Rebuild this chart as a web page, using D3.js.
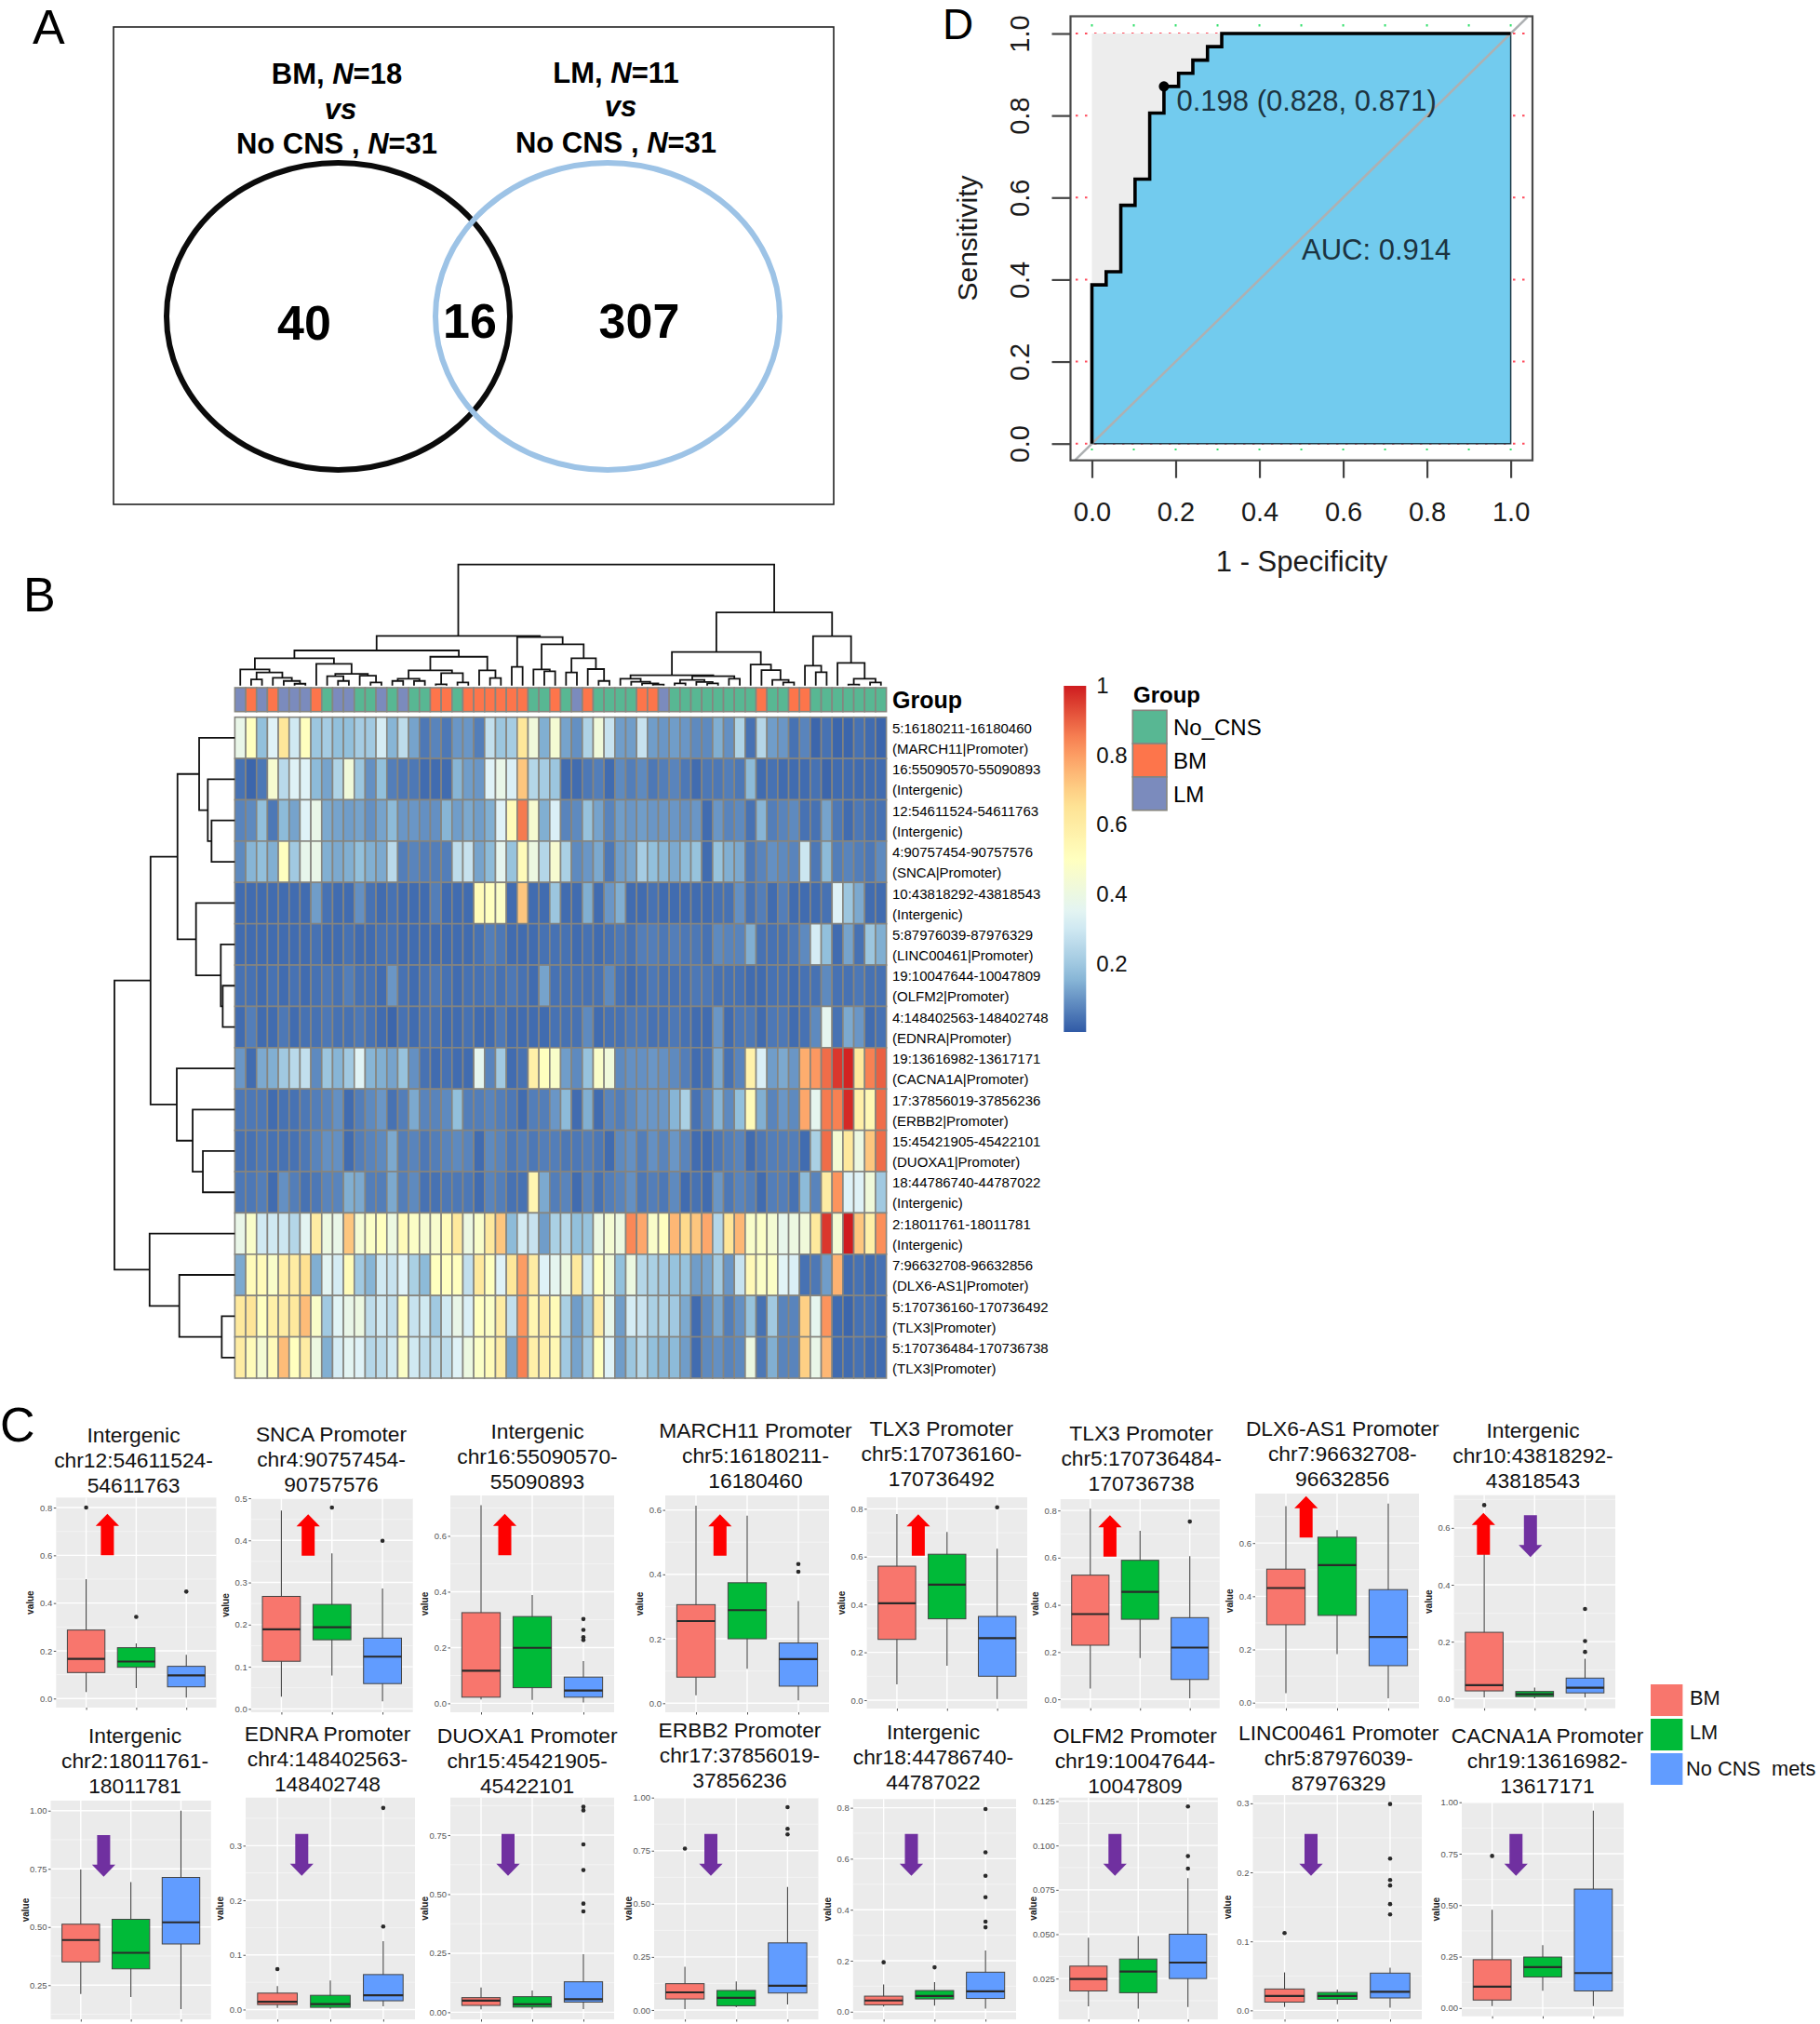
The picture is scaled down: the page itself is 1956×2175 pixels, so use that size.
<!DOCTYPE html>
<html><head><meta charset="utf-8">
<script src="https://cdn.jsdelivr.net/npm/d3@7"></script>
<style>html,body{margin:0;padding:0;background:#fff}svg{display:block}text{font-family:"Liberation Sans",Arial,sans-serif}</style>
</head><body><svg id="c" width="1956" height="2175"></svg>
<script>
/* ---------- Panel A data ---------- */
const vennCounts = [40, 16, 307];
/* ---------- Panel D data ---------- */
const rocFpr = [0,0,.034,.069,.103,.138,.172,.207,.241,.276,.31,1];
const rocTpr = [0,.387,.419,.581,.645,.806,.871,.903,.935,.968,1,1];
const rocBest = [.172,.871];
const rocTicks = ["0.0","0.2","0.4","0.6","0.8","1.0"];
/* ---------- Panel B data ---------- */
const rowLabels = [
 ["5:16180211-16180460","(MARCH11|Promoter)"],["16:55090570-55090893","(Intergenic)"],
 ["12:54611524-54611763","(Intergenic)"],["4:90757454-90757576","(SNCA|Promoter)"],
 ["10:43818292-43818543","(Intergenic)"],["5:87976039-87976329","(LINC00461|Promoter)"],
 ["19:10047644-10047809","(OLFM2|Promoter)"],["4:148402563-148402748","(EDNRA|Promoter)"],
 ["19:13616982-13617171","(CACNA1A|Promoter)"],["17:37856019-37856236","(ERBB2|Promoter)"],
 ["15:45421905-45422101","(DUOXA1|Promoter)"],["18:44786740-44787022","(Intergenic)"],
 ["2:18011761-18011781","(Intergenic)"],["7:96632708-96632856","(DLX6-AS1|Promoter)"],
 ["5:170736160-170736492","(TLX3|Promoter)"],["5:170736484-170736738","(TLX3|Promoter)"]];
const sampleGroups = ["LM","BM","LM","BM","LM","LM","LM","BM","No_CNS","LM",
 "LM","No_CNS","No_CNS","LM","No_CNS","LM","No_CNS","No_CNS","BM","BM",
 "No_CNS","BM","BM","BM","BM","BM","BM","No_CNS","No_CNS","BM",
 "No_CNS","LM","BM","No_CNS","No_CNS","No_CNS","No_CNS","BM","BM","LM",
 "No_CNS","No_CNS","No_CNS","No_CNS","No_CNS","No_CNS","No_CNS","No_CNS","BM","No_CNS",
 "No_CNS","BM","BM","No_CNS","No_CNS","No_CNS","No_CNS","No_CNS","No_CNS","No_CNS"];
const heat = [
[38,50,17,33,63,30,50,19,21,17,17,21,20,31,15,26,12,5,7,5,10,10,6,27,19,21,63,42,14,44,12,9,23,42,28,11,11,28,11,10,11,10,8,8,14,9,23,4,24,11,10,4,7,2,4,2,2,4,3,2],
[4,2,5,45,25,33,33,16,12,23,42,19,9,17,6,5,5,3,3,3,15,11,10,33,38,32,72,24,21,19,3,3,5,6,3,8,6,8,5,6,7,5,3,5,5,6,5,16,3,4,3,3,3,4,2,3,3,3,3,3],
[7,8,17,5,16,12,33,38,13,12,11,12,9,12,16,10,10,9,9,15,11,13,11,14,33,52,86,45,14,32,7,8,18,12,7,11,10,11,10,10,10,9,10,3,10,7,8,4,15,6,7,8,4,4,12,5,3,5,4,4],
[8,15,17,14,50,20,37,38,14,13,14,17,14,13,25,6,7,6,6,6,26,28,12,16,36,18,52,40,24,45,22,8,10,13,5,11,12,21,17,15,13,16,18,3,18,14,13,5,7,9,8,7,29,5,16,6,7,6,5,8],
[3,3,3,3,3,3,3,11,4,3,3,9,4,3,4,3,3,3,6,3,3,3,52,50,48,3,72,3,3,19,3,3,14,3,10,14,3,3,4,3,3,3,3,3,4,4,9,4,6,3,6,3,3,3,4,33,19,13,3,3],
[3,3,3,3,3,3,3,4,3,3,4,3,3,4,4,3,3,3,3,3,3,3,4,6,5,3,3,3,4,4,4,3,4,3,4,5,4,6,6,5,6,5,5,4,8,7,7,14,4,4,4,5,8,31,17,3,12,4,19,14],
[4,4,3,4,3,4,3,4,5,4,6,4,4,3,10,4,3,4,5,4,3,4,4,5,4,5,4,3,12,4,4,4,4,4,8,4,3,4,5,4,4,4,5,5,4,4,4,3,3,4,4,3,4,4,8,4,4,5,4,4],
[3,6,3,3,5,3,4,4,5,4,4,5,4,3,2,4,3,4,4,3,3,4,3,3,5,3,3,3,3,4,4,4,8,3,4,4,5,5,4,4,5,4,3,3,10,3,5,5,3,5,5,3,4,8,36,4,13,10,3,4],
[10,3,13,14,20,25,27,8,19,15,20,34,15,14,12,18,9,4,3,4,3,3,36,7,20,3,4,58,50,47,11,8,18,47,42,8,9,9,10,9,8,6,3,4,13,4,7,57,32,11,13,10,77,81,88,96,99,62,85,90],
[5,5,5,3,4,4,5,6,7,9,3,6,8,10,4,6,13,7,7,8,17,6,6,7,6,5,3,6,6,10,16,3,14,3,7,6,8,10,10,10,15,22,4,7,15,8,17,52,14,7,10,8,78,36,86,85,98,58,54,88],
[4,4,5,4,4,4,5,7,9,9,3,6,7,8,13,6,7,5,6,7,8,7,3,8,7,5,6,5,6,6,5,5,6,5,3,8,9,6,9,7,10,7,3,3,5,6,7,3,5,6,6,6,3,22,88,44,62,40,72,88],
[5,5,6,3,9,6,4,5,7,7,14,13,6,6,13,6,8,4,4,5,5,5,3,7,6,4,4,55,13,6,7,3,7,4,6,7,9,5,6,5,8,3,4,3,10,5,7,6,3,6,6,4,16,7,60,82,33,33,42,20],
[38,47,30,30,29,24,35,60,40,38,72,44,48,50,40,52,48,45,46,52,62,40,47,62,72,16,30,28,11,22,24,17,18,40,44,40,84,78,47,50,75,68,72,78,24,64,75,47,48,44,37,40,42,62,96,44,100,72,58,83],
[13,52,52,47,58,60,66,14,35,31,52,20,15,30,28,33,22,16,50,50,50,27,62,50,33,63,80,60,33,36,40,62,30,50,42,17,40,24,22,20,18,18,11,12,20,10,28,53,48,48,34,32,4,5,11,76,3,4,3,4],
[62,64,50,58,60,62,74,47,20,34,38,40,26,30,27,50,28,30,20,30,38,32,50,48,60,27,82,55,60,52,22,11,19,60,37,11,31,28,22,22,20,13,3,8,13,6,9,18,4,20,7,7,70,36,82,3,2,4,4,3],
[60,52,44,52,74,50,60,40,14,31,35,33,24,26,30,48,30,26,26,26,33,40,48,52,60,12,85,58,58,54,20,12,21,50,33,11,19,24,17,15,16,11,3,8,9,7,8,40,5,14,7,7,70,38,75,3,3,4,3,3]];
/* dendrograms: [merge height, child, child]; numbers are leaf indices */
const colTree = [1.0,
 [.41,
  [.29,
   [.226,
    [.133,0,[.108,[.051,1,2],[.064,3,[.038,4,[.015,5,6]]]]],
    [.179,7,[.097,[.077,8,[.038,9,10]],[.082,11,[.026,12,13]]]]],
   [.238,
    [.126,[.056,[.038,14,15],[.038,16,17]],[.103,[.01,18,19],[.026,20,21]]],
    [.126,22,[.062,23,24]]]],
  [.40,
   [.154,25,26],
   [.341,
    [.133,27,[.118,28,29]],
    [.226,[.108,30,31],[.136,32,[.038,33,34]]]]]],
 [.605,
  [.277,
   [.085,
    [.056,35,[.031,36,[.018,37,[.008,38,39]]]],
    [.077,[.046,[.018,40,41],[.03,42,[.018,43,44]]],[.056,45,46]]],
   [.174,47,[.128,48,[.046,49,[.026,50,51]]]]],
  [.408,
   [.164,52,[.11,53,54]],
   [.187,55,[.056,[.008,56,57],[.026,58,59]]]]]];
const rowTree = [1.0,
 [.70,
  [.476,
   [.296,0,[.224,1,[.193,2,3]]],
   [.322,4,[.116,5,[.10,6,7]]]],
  [.482,8,[.35,9,[.265,10,11]]]],
 [.708,12,[.461,13,[.108,14,15]]]];
const legendGroups = ["No_CNS","BM","LM"];
const legendTicks = ["0.2","0.4","0.6","0.8","1"];
/* ---------- Panel C data ---------- */
const boxGroups = ["BM","LM","No CNS  mets"];
const panelTitles = [
 ["Intergenic","chr12:54611524-","54611763"],["SNCA Promoter","chr4:90757454-","90757576"],
 ["Intergenic","chr16:55090570-","55090893"],["MARCH11 Promoter","chr5:16180211-","16180460"],
 ["TLX3 Promoter","chr5:170736160-","170736492"],["TLX3 Promoter","chr5:170736484-","170736738"],
 ["DLX6-AS1 Promoter","chr7:96632708-","96632856"],["Intergenic","chr10:43818292-","43818543"],
 ["Intergenic","chr2:18011761-","18011781"],["EDNRA Promoter","chr4:148402563-","148402748"],
 ["DUOXA1 Promoter","chr15:45421905-","45422101"],["ERBB2 Promoter","chr17:37856019-","37856236"],
 ["Intergenic","chr18:44786740-","44787022"],["OLFM2 Promoter","chr19:10047644-","10047809"],
 ["LINC00461 Promoter","chr5:87976039-","87976329"],["CACNA1A Promoter","chr19:13616982-","13617171"]];
const panelTicks = [
 ["0.0","0.2","0.4","0.6","0.8"],["0.0","0.1","0.2","0.3","0.4","0.5"],["0.0","0.2","0.4","0.6"],["0.0","0.2","0.4","0.6"],
 ["0.0","0.2","0.4","0.6","0.8"],["0.0","0.2","0.4","0.6","0.8"],["0.0","0.2","0.4","0.6"],["0.0","0.2","0.4","0.6"],
 ["0.25","0.50","0.75","1.00"],["0.0","0.1","0.2","0.3"],["0.00","0.25","0.50","0.75"],["0.00","0.25","0.50","0.75","1.00"],
 ["0.0","0.2","0.4","0.6","0.8"],["0.025","0.050","0.075","0.100","0.125"],["0.0","0.1","0.2","0.3"],["0.00","0.25","0.50","0.75","1.00"]];
const panelDomains = [[-.038,.842],[-.008,.5],[-.032,.745],[-.028,.645],[-.035,.848],[-.038,.848],[-.021,.786],[-.034,.715],
 [.103,1.043],[-.018,.388],[-.03,.909],[-.044,1.0],[-.03,.834],[.002,.127],[-.013,.312],[-.04,1.0]];
/* low, q1, median, q3, high for BM, LM, No CNS */
const boxStats = [
 [[.027,.109,.166,.287,.50],[.044,.131,.155,.213,.231],[.004,.049,.097,.135,.183]],
 [[.029,.113,.189,.267,.4705],[.079,.164,.194,.248,.369],[.018,.060,.124,.168,.286]],
 [[.014,.022,.117,.325,.71],[.012,.056,.199,.311,.388],[.003,.022,.046,.094,.151]],
 [[.025,.081,.255,.306,.6135],[.107,.20,.289,.374,.582],[.009,.053,.137,.187,.317]],
 [[.066,.254,.405,.56,.778],[.144,.34,.483,.61,.703],[.005,.10,.259,.35,.633]],
 [[.046,.229,.361,.526,.808],[.175,.339,.455,.589,.714],[.004,.084,.219,.346,.606]],
 [[.036,.293,.431,.502,.739],[.183,.328,.517,.622,.649],[.016,.139,.247,.425,.748]],
 [[.004,.027,.047,.233,.51],[.001,.007,.015,.025,.039],[.004,.02,.038,.072,.14]],
 [[.212,.35,.444,.512,.747],[.199,.32,.389,.533,.693],[.147,.427,.52,.713,1.0]],
 [[.003,.009,.014,.03,.043],[.001,.004,.01,.026,.053],[.006,.016,.026,.064,.125]],
 [[.012,.029,.049,.062,.105],[.012,.022,.034,.066,.092],[.013,.043,.055,.129,.246]],
 [[.004,.052,.083,.124,.204],[.013,.02,.057,.092,.134],[.026,.08,.114,.316,.579]],
 [[.02,.027,.044,.061,.107],[.024,.05,.062,.083,.116],[.012,.052,.08,.155,.24]],
 [[.0094,.018,.0247,.032,.048],[.008,.017,.029,.036,.049],[.009,.025,.034,.05,.0816]],
 [[.005,.012,.021,.031,.055],[.009,.016,.021,.026,.03],[.004,.018,.027,.054,.062]],
 [[.009,.039,.104,.235,.477],[.084,.151,.199,.248,.306],[.009,.083,.17,.578,.959]]];
const boxOutliers = [
 [[.80],[.342],[.448]],[[],[.478],[.399]],[[],[],[.302,.263,.237,.227]],[[],[],[.432,.408]],
 [[],[],[.806]],[[],[],[.753]],[[],[],[]],[[.68],[],[.315,.202,.164]],
 [[],[],[]],[[.074],[],[.369,.152]],[[],[],[.87,.855,.711,.602,.46,.427]],[[.76],[],[.955,.853,.827]],
 [[.194],[.174],[.795,.625,.533,.449,.353,.331]],[[],[],[.122,.094,.087]],[[.112],[],[.299,.22,.189,.181,.154,.139]],[[.739],[],[]]];

/* ---------- Layout (panel frames, not data) ---------- */
const panelFrames = [
 [60.3,232.5,1609.3,1835],[269.8,443.7,1610,1840],[484,660,1607,1840],[715,891,1607,1840],
 [931.6,1104,1609,1836],[1139.7,1310.8,1611,1835.7],[1349,1525,1605,1835.7],[1562.6,1736,1606.7,1835.7],
 [54.5,226.8,1935,2170],[264,446,1931.7,2170],[484,660,1931.7,2170],[703,879.5,1931.7,2170],
 [916.8,1092,1933.3,2170],[1137.7,1308.8,1931.7,2170],[1346.5,1528,1929,2170],[1571,1745,1936.7,2166.7]];
const titleAnchors = [[143.5,1550],[356,1549.3],[577.5,1545.7],[812,1545],[1011.8,1543],[1226.6,1548],[1442.8,1542.7],[1647.5,1545],
 [145,1873.3],[352,1871],[566.6,1873.3],[795,1867.3],[1003,1869.3],[1219.9,1873],[1438.7,1870],[1663,1873]];
const arrowLayout = [
 [115.4,1626.7,1671.3,"up"],[331.2,1627.3,1671.7,"up"],[542.5,1626.7,1671.3,"up"],[773.8,1627.3,1671.7,"up"],
 [986.9,1627.3,1671.7,"up"],[1192.9,1628.3,1672.7,"up"],[1403.7,1607.7,1652.3,"up"],[1594.3,1625.7,1670.7,"up"],
 [1644.8,1628.3,1673.3,"down"],
 [111.4,1972,2016.7,"down"],[324.3,1970.7,2015.7,"down"],[546,1970.7,2015.7,"down"],[764,1970.7,2015.7,"down"],
 [979.5,1970.7,2015.7,"down"],[1198.3,1970.7,2015.7,"down"],[1409,1970.7,2015.7,"down"],[1629.3,1970.7,2015.7,"down"]];

const svg = d3.select("#c");
svg.append("rect").attr("width",1956).attr("height",2175).attr("fill","#fff");
function txt(g,x,y,s,size,opt={}){
  return g.append("text").attr("x",x).attr("y",y).text(s).attr("font-size",size)
   .attr("text-anchor",opt.anchor||"start").attr("font-weight",opt.weight||"normal")
   .attr("font-style",opt.style||"normal").attr("fill",opt.fill||"#000");
}
/* panel letters */
[["A",35,47,52],["B",25,657,52],["C",0,1549,52],["D",1013,42,46]].forEach(d=>txt(svg,d[1],d[2],d[0],d[3]));

/* ===== Panel A ===== */
const A = svg.append("g");
A.append("rect").attr("x",122).attr("y",29).attr("width",774).attr("height",513).attr("fill","none").attr("stroke","#222").attr("stroke-width",1.6);
A.append("ellipse").attr("cx",363.5).attr("cy",340).attr("rx",184.5).attr("ry",165).attr("fill","none").attr("stroke","#0b0b0b").attr("stroke-width",6);
A.append("ellipse").attr("cx",653).attr("cy",340).attr("rx",185).attr("ry",165).attr("fill","none").attr("stroke","#9dc3e6").attr("stroke-width",6);
function nLine(x,y,a,b){
  const t=txt(A,x,y,a,31,{anchor:"middle",weight:"bold"});
  t.append("tspan").attr("font-style","italic").text("N");
  t.append("tspan").text(b);
}
nLine(362,90,"BM, ","=18"); txt(A,366,128,"vs",31,{anchor:"middle",weight:"bold",style:"italic"}); nLine(362,165,"No CNS , ","=31");
nLine(662,89,"LM, ","=11"); txt(A,667,125,"vs",31,{anchor:"middle",weight:"bold",style:"italic"}); nLine(662,164,"No CNS , ","=31");
[[327,365],[505,363],[687,363]].forEach((p,i)=>txt(A,p[0],p[1],vennCounts[i],52,{anchor:"middle",weight:"bold"}));

/* ===== Panel D ===== */
const D = svg.append("g");
const dBox = {l:1150.5,r:1647,t:17.5,b:494.7};
const rx = d3.scaleLinear().domain([0,1]).range([1173.5,1623.6]);
const ry = d3.scaleLinear().domain([0,1]).range([476.7,36]);
const tickVals = rocTicks.map(Number);
tickVals.forEach(v=>D.append("line").attr("x1",1156).attr("x2",dBox.r).attr("y1",ry(v)).attr("y2",ry(v)).attr("stroke","#ff4b5c").attr("stroke-width",2).attr("stroke-dasharray","2.5 7.5"));
d3.range(0,1.01,.1).forEach(v=>D.append("line").attr("x1",rx(v)).attr("x2",rx(v)).attr("y1",26).attr("y2",484).attr("stroke","#35e06e").attr("stroke-width",2).attr("stroke-dasharray","2.5 453.5"));
D.append("rect").attr("x",rx(0)).attr("y",ry(1)).attr("width",rx(1)-rx(0)).attr("height",ry(0)-ry(1)).attr("fill","#ededed");
const rocPts = rocFpr.map((f,i)=>[f,rocTpr[i]]);
D.append("path").datum(rocPts).attr("d",d3.area().curve(d3.curveStepAfter).x(d=>rx(d[0])).y0(ry(0)).y1(d=>ry(d[1]))).attr("fill","#72cbee").attr("stroke","#1d3a48").attr("stroke-width",1.5);
D.append("line").attr("x1",rx(-.04)).attr("y1",ry(-.04)).attr("x2",rx(1.04)).attr("y2",ry(1.04)).attr("stroke","#adb0b2").attr("stroke-width",2.6);
D.append("path").datum(rocPts).attr("d",d3.line().curve(d3.curveStepAfter).x(d=>rx(d[0])).y(d=>ry(d[1]))).attr("fill","none").attr("stroke","#000").attr("stroke-width",3.6);
D.append("circle").attr("cx",rx(rocBest[0])).attr("cy",ry(rocBest[1])).attr("r",5.5).attr("fill","#000");
D.append("rect").attr("x",dBox.l).attr("y",dBox.t).attr("width",dBox.r-dBox.l).attr("height",dBox.b-dBox.t).attr("fill","none").attr("stroke","#4a4a4a").attr("stroke-width",2.2);
const dx = D.append("g").attr("transform",`translate(0,${dBox.b})`).call(d3.axisBottom(rx).tickValues(tickVals).tickFormat(d3.format(".1f")).tickSize(19));
const dy = D.append("g").attr("transform",`translate(${dBox.l},0)`).call(d3.axisLeft(ry).tickValues(tickVals).tickFormat(d3.format(".1f")).tickSize(20));
[dx,dy].forEach(g=>{g.select(".domain").remove();g.selectAll("line").attr("stroke","#444").attr("stroke-width",2.2);g.selectAll("text").attr("font-size",29).attr("fill","#1a1a1a").attr("font-family",'"Liberation Sans"');});
dx.selectAll("text").attr("y",65).attr("dy",0);
dy.selectAll("text").attr("transform","rotate(-90)").attr("x",0).attr("y",-44.5).attr("dy",0).style("text-anchor","middle");
txt(D,1399,614,"1 - Specificity",31,{anchor:"middle",fill:"#1a1a1a"});
txt(D,0,0,"Sensitivity",30,{anchor:"middle",fill:"#1a1a1a"}).attr("x",0).attr("y",0).attr("transform","translate(1050,256) rotate(-90)");
txt(D,1264.5,119,"0.198 (0.828, 0.871)",31,{fill:"#1c3340"});
txt(D,1399,279,"AUC: 0.914",31,{fill:"#1c3340"});

/* ===== Panel B ===== */
const B = svg.append("g");
const nCols = heat[0].length, nRows = heat.length;
const hx = d3.scaleBand().domain(d3.range(nCols)).range([252.4,952.6]);
const hy = d3.scaleBand().domain(d3.range(nRows)).range([770.7,1481]);
const heatColor = d3.scaleLinear().domain([0,.167,.333,.5,.667,.833,1])
  .range(["#305aa6","#91bfdb","#e0f3f8","#ffffbf","#fee090","#fc8d59","#cf1c1f"]).clamp(true);
const groupColor = d3.scaleOrdinal().domain(legendGroups).range(["#58b793","#fd754b","#7b8bbd"]);
const gridCol = "#86857f";
heat.forEach((row,r)=>row.forEach((v,c)=>{
  B.append("rect").attr("x",hx(c)).attr("y",hy(r)).attr("width",hx.bandwidth()).attr("height",hy.bandwidth())
   .attr("fill",heatColor(v/100)).attr("stroke",gridCol).attr("stroke-width",1.6);
}));
sampleGroups.forEach((g,c)=>B.append("rect").attr("x",hx(c)).attr("y",739).attr("width",hx.bandwidth()).attr("height",25.7)
   .attr("fill",groupColor(g)).attr("stroke",gridCol).attr("stroke-width",1.6));
/* dendrograms */
function buildDendro(tree,leafPos,hPos,draw){
  const root = d3.hierarchy(tree,d=>Array.isArray(d)?d.slice(1):null);
  root.eachAfter(n=>{
    if(n.children){n.pos=(n.children[0].pos+n.children[1].pos)/2;n.h=n.data[0];}
    else{n.pos=leafPos(n.data);n.h=0;}
  });
  root.each(n=>{ if(n.children){ const [a,b]=n.children; draw(a.pos,hPos(a.h),hPos(n.h),b.pos,hPos(b.h)); } });
}
const tH = d3.scaleLinear().domain([0,1]).range([736.7,606.7]);
buildDendro(colTree,i=>hx(i)+hx.bandwidth()/2,h=>tH(h),(p1,h1,h,p2,h2)=>{
  B.append("path").attr("d",`M${p1},${h1}V${h}H${p2}V${h2}`).attr("fill","none").attr("stroke","#111").attr("stroke-width",1.8);
});
const lH = d3.scaleLinear().domain([0,1]).range([252.3,123]);
buildDendro(rowTree,i=>hy(i)+hy.bandwidth()/2,h=>lH(h),(p1,h1,h,p2,h2)=>{
  B.append("path").attr("d",`M${h1},${p1}H${h}V${p2}H${h2}`).attr("fill","none").attr("stroke","#111").attr("stroke-width",1.8);
});
txt(B,959,761,"Group",25,{weight:"bold"});
rowLabels.forEach((l,r)=>{
  const c=hy(r)+hy.bandwidth()/2;
  txt(B,959,c-4.8,l[0],15);
  txt(B,959,c+17.2,l[1],15);
});
/* colour legend */
const defs = svg.append("defs");
const grad = defs.append("linearGradient").attr("id","hg").attr("x1",0).attr("x2",0).attr("y1",1).attr("y2",0);
d3.range(0,1.001,.05).forEach(t=>grad.append("stop").attr("offset",t).attr("stop-color",heatColor(t)));
B.append("rect").attr("x",1143.3).attr("y",737).attr("width",24).attr("height",372).attr("fill","url(#hg)");
const legY = d3.scaleLinear().domain([0,1]).range([1110,737]);
const legAxis = B.append("g").attr("transform","translate(1167.3,0)").call(d3.axisRight(legY).tickValues(legendTicks.map(Number)).tickFormat((d,i)=>legendTicks[i]).tickSize(0).tickPadding(11));
legAxis.select(".domain").remove();
legAxis.selectAll("text").attr("font-size",24).attr("fill","#111").attr("font-family",'"Liberation Sans"');
txt(B,1218,755,"Group",24,{weight:"bold"});
const legSw = d3.scaleBand().domain(legendGroups).range([763.3,870.7]);
legendGroups.forEach(g=>{
  B.append("rect").attr("x",1217.3).attr("y",legSw(g)).attr("width",36.7).attr("height",legSw.bandwidth()).attr("fill",groupColor(g)).attr("stroke",gridCol).attr("stroke-width",1.6);
  txt(B,1261,legSw(g)+27,g,24);
});

/* ===== Panel C ===== */
const C = svg.append("g");
const boxColor = d3.scaleOrdinal().domain(boxGroups).range(["#f8766d","#00ba38","#619cff"]);
panelTitles.forEach((title,p)=>{
  const [x0,x1,y0,y1] = panelFrames[p];
  const g = C.append("g");
  const [tx,tb] = titleAnchors[p];
  title.forEach((s,i)=>txt(g,tx,tb+i*27,s,22.8,{anchor:"middle",fill:"#111"}));
  const y = d3.scaleLinear().domain(panelDomains[p]).range([y1,y0]);
  const x = d3.scalePoint().domain(boxGroups).range([x0,x1]).padding(.6);
  const band = x.step()*.75;
  const tv = panelTicks[p].map(Number);
  g.append("rect").attr("x",x0).attr("y",y0).attr("width",x1-x0).attr("height",y1-y0).attr("fill","#ebebeb");
  /* minor grid */
  const step = tv[1]-tv[0], minors=[];
  for(let v=tv[0]-step/2; v<=panelDomains[p][1]; v+=step) if(v>=panelDomains[p][0]) minors.push(v);
  minors.forEach(v=>g.append("line").attr("x1",x0).attr("x2",x1).attr("y1",y(v)).attr("y2",y(v)).attr("stroke","#f6f6f6").attr("stroke-width",.8));
  tv.forEach(v=>g.append("line").attr("x1",x0).attr("x2",x1).attr("y1",y(v)).attr("y2",y(v)).attr("stroke","#fff").attr("stroke-width",1.4));
  boxGroups.forEach(b=>g.append("line").attr("x1",x(b)).attr("x2",x(b)).attr("y1",y0).attr("y2",y1).attr("stroke","#fff").attr("stroke-width",1.4));
  boxGroups.forEach((b,i)=>{
    const [lo,q1,med,q3,hi] = boxStats[p][i], cx=x(b);
    g.append("line").attr("x1",cx).attr("x2",cx).attr("y1",y(lo)).attr("y2",y(hi)).attr("stroke","#444").attr("stroke-width",1.1);
    g.append("rect").attr("x",cx-band/2).attr("y",y(q3)).attr("width",band).attr("height",y(q1)-y(q3)).attr("fill",boxColor(b)).attr("stroke","#444").attr("stroke-width",1);
    g.append("line").attr("x1",cx-band/2).attr("x2",cx+band/2).attr("y1",y(med)).attr("y2",y(med)).attr("stroke","#2a2a2a").attr("stroke-width",2.2);
    boxOutliers[p][i].forEach(o=>g.append("circle").attr("cx",cx).attr("cy",y(o)).attr("r",2.3).attr("fill","#2a2a2a"));
  });
  const ax = g.append("g").attr("transform",`translate(${x0},0)`).call(d3.axisLeft(y).tickValues(tv).tickFormat((d,i)=>panelTicks[p][i]).tickSize(2.5).tickPadding(1.5));
  ax.select(".domain").remove();
  ax.selectAll("line").attr("stroke","#555");
  ax.selectAll("text").attr("font-size",9.5).attr("fill","#555").attr("font-family",'"Liberation Sans"');
  const bx = g.append("g").attr("transform",`translate(0,${y1})`).call(d3.axisBottom(x).tickSize(2.5).tickFormat(""));
  bx.select(".domain").remove();
  bx.selectAll("line").attr("stroke","#555");
  txt(g,0,0,"value",10,{anchor:"middle",weight:"bold",fill:"#222"}).attr("transform",`translate(${x0-24},${(y0+y1)/2}) rotate(-90)`);
});
arrowLayout.forEach(([cx,t,b,dir])=>{
  const sw=7,hw=12.6,hh=13;
  const pts = dir==="up"
   ? [[cx,t],[cx+hw,t+hh],[cx+sw,t+hh],[cx+sw,b],[cx-sw,b],[cx-sw,t+hh],[cx-hw,t+hh]]
   : [[cx,b],[cx+hw,b-hh],[cx+sw,b-hh],[cx+sw,t],[cx-sw,t],[cx-sw,b-hh],[cx-hw,b-hh]];
  C.append("polygon").attr("points",pts.join(" ")).attr("fill",dir==="up"?"#fe0000":"#7030a0");
});
const cLeg = d3.scaleBand().domain(boxGroups).range([1810,1918]).paddingInner(.08);
boxGroups.forEach(b=>{
  C.append("rect").attr("x",1774).attr("y",cLeg(b)).attr("width",34.4).attr("height",cLeg.bandwidth()).attr("fill",boxColor(b));
  txt(C,b==="No CNS  mets"?1812:1816,cLeg(b)+cLeg.bandwidth()*.66+(b==="No CNS  mets"?2:0),b,21.8,{fill:"#111"}).attr("xml:space","preserve").style("white-space","pre");
});
</script></body></html>
